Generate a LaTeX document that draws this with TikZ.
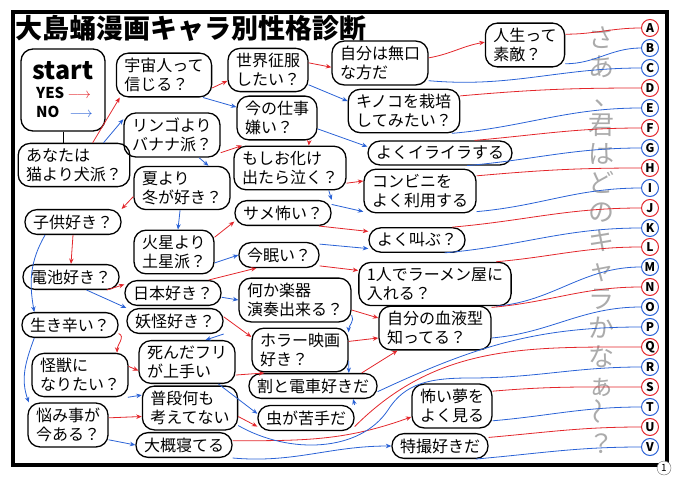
\documentclass[tikz,border=0pt]{standalone}
\usepackage{fontspec}
\setmainfont{Noto Sans CJK JP}
\usepackage{tikz}
\usetikzlibrary{arrows.meta}
\definecolor{colyes}{HTML}{E3262B}
\definecolor{colno}{HTML}{2A62D6}
\definecolor{colmsg}{HTML}{ABABAB}

\begin{document}
\begin{tikzpicture}[x=1pt, y=1pt]
    \tikzstyle{qnb} += [draw=black, line width=1.3pt, rounded corners=12pt, align=left, inner xsep=8pt, inner ysep=5pt, font=\fontsize{16}{19}\selectfont];
    \tikzstyle{cny} += [draw=colyes, circle, line width=1pt, inner sep=0pt, minimum size=17pt, font=\fontsize{12}{12}\selectfont\bfseries];
    \tikzstyle{cnn} += [draw=colno, circle, line width=1pt, inner sep=0pt, minimum size=17pt, font=\fontsize{12}{12}\selectfont\bfseries];
    \tikzstyle{ar} += [-{Stealth[length=5.5pt, width=4.5pt]}];
    \useasboundingbox (0,0) rectangle (680,480);
    \draw[line width=4pt] (13,15) rectangle (667,468);
    \node (title) at (14,452) [anchor=west, inner sep=1pt, font=\fontsize{27}{30}\selectfont\bfseries] {大島蛹漫画キャラ別性格診断};
    \node (pg) at (664,12) [draw=black!60, fill=white, circle, inner sep=0pt, minimum size=14pt, font=\fontsize{10}{10}\selectfont] {1};
    \node (msg) at (601,240) [text=colmsg, align=center, font=\fontsize{26}{29}\selectfont] {さ\\あ\\\hspace{12pt}、\\君\\は\\ど\\の\\キ\\ャ\\ラ\\か\\な\\ぁ\\\rotatebox{90}{～}\\？};

    \node (start) at (63,390) [qnb, minimum width=84pt, minimum height=82pt, inner xsep=6pt] {{\fontsize{25}{27}\selectfont\bfseries start}\\{\fontsize{15}{18}\selectfont\bfseries\ YES \textcolor{colyes}{$\longrightarrow$}}\\{\fontsize{15}{18}\selectfont\bfseries\ NO\ \ \ \textcolor{colno}{$\longrightarrow$}}};
    \node (dog)     at ( 74,315) [qnb] {あなたは\\猫より犬派？};
    \node (space)   at (164,405) [qnb] {宇宙人って\\信じる？};
    \node (apple)   at (172,345) [qnb] {リンゴより\\バナナ派？};
    \node (world)   at (268,410) [qnb] {世界征服\\したい？};
    \node (work)    at (277,362) [qnb] {今の仕事\\嫌い？};
    \node (quiet)   at (380,417) [qnb] {自分は無口\\な方だ};
    \node (life)    at (525,435) [qnb] {人生って\\素敵？};
    \node (mush)    at (404,369) [qnb] {キノコを栽培\\してみたい？};
    \node (irr)     at (440,327) [qnb] {よくイライラする};
    \node (ghost)   at (290,312) [qnb] {もしお化け\\出たら泣く？};
    \node (summer)  at (182,292) [qnb] {夏より\\冬が好き？};
    \node (conv)    at (420,289) [qnb] {コンビニを\\よく利用する};
    \node (shark)   at (283,267) [qnb] {サメ怖い？};
    \node (kids)    at ( 73,258) [qnb] {子供好き？};
    \node (mars)    at (174,228) [qnb] {火星より\\土星派？};
    \node (scream)  at (417,240) [qnb] {よく叫ぶ？};
    \node (sleepy)  at (279,225) [qnb] {今眠い？};
    \node (battery) at ( 71,203) [qnb] {電池好き？};
    \node (japan)   at (173,187) [qnb] {日本好き？};
    \node (ramen)   at (435,196) [qnb] {1人でラーメン屋に\\入れる？};
    \node (instr)   at (295,180) [qnb] {何か楽器\\演奏出来る？};
    \node (yokai)   at (175,159) [qnb] {妖怪好き？};
    \node (hard)    at ( 70,155) [qnb] {生き辛い？};
    \node (blood)   at (435,152) [qnb] {自分の血液型\\知ってる？};
    \node (horror)  at (300,130) [qnb] {ホラー映画\\好き？};
    \node (dead)    at (187,118) [qnb] {死んだフリ\\が上手い};
    \node (monster) at ( 80,105) [qnb] {怪獣に\\なりたい？};
    \node (train)   at (313, 94) [qnb] {割と電車好きだ};
    \node (plain)   at (190, 72) [qnb] {普段何も\\考えてない};
    \node (bug)     at (306, 62) [qnb] {虫が苦手だ};
    \node (worry)   at ( 68, 55) [qnb] {悩み事が\\今ある？};
    \node (dream)   at (452, 74) [qnb] {怖い夢を\\よく見る};
    \node (sleep)   at (184, 35) [qnb] {大概寝てる};
    \node (toku)    at (440, 34) [qnb] {特撮好きだ};

    \node (A) at (650,452) [cny] {A};
    \node (B) at (650,432) [cnn] {B};
    \node (C) at (650,412) [cnn] {C};
    \node (D) at (650,392) [cny] {D};
    \node (E) at (650,372) [cnn] {E};
    \node (F) at (650,352) [cny] {F};
    \node (G) at (650,332) [cnn] {G};
    \node (H) at (650,312) [cny] {H};
    \node (I) at (650,292) [cnn] {I};
    \node (J) at (650,272) [cny] {J};
    \node (K) at (650,252) [cnn] {K};
    \node (L) at (650,233) [cny] {L};
    \node (M) at (650,213) [cnn] {M};
    \node (N) at (650,193) [cny] {N};
    \node (O) at (650,173) [cnn] {O};
    \node (P) at (650,153) [cnn] {P};
    \node (Q) at (650,133) [cny] {Q};
    \node (R) at (650,113) [cnn] {R};
    \node (S) at (650, 93) [cny] {S};
    \node (T) at (650, 73) [cnn] {T};
    \node (U) at (650, 53) [cny] {U};
    \node (V) at (650, 33) [cnn] {V};

    \begin{scope}[thick]
      \draw (start.south) -- (start.south |- dog.north);
      \draw[colyes, ar] (dog.50) -- (space.207);
      \draw[colno, ar] (dog.37) -- (apple.162);
      \draw[colyes, ar] (space.-15) -- (world.195);
      \draw[colno, ar] (space.-30) -- (work.165);
      \draw[colyes, ar] (world.10) -- (quiet.185);
      \draw[colno, ar] (world.-20) -- (mush.170);
      \draw[colyes, ar] (quiet.6) to[out=10, in=190] (life.176);
      \draw[colyes, ar] (work.-35) -- (ghost.50);
      \draw[colno, ar] (work.-15) -- (irr.175);
      \draw[colyes, ar] (apple.-20) -- (ghost.155);
      \draw[colno, ar] (apple.-40) -- (summer.40);
      \draw[colyes, ar] (ghost.-15) -- (conv.170);
      \draw[colno, ar] (ghost.-30) -- (shark.15);
      \draw[colyes, ar] (summer.190) -- (kids.15);
      \draw[colno, ar] (summer.-95) -- (mars.80);
      \draw[colyes, ar] (shark.-20) -- (scream.170);
      \draw[colno, ar] (shark.10) -- (conv.200);
      \draw[colyes, ar] (mars.20) -- (shark.190);
      \draw[colno, ar] (mars.-15) -- (sleepy.180);
      \draw[colyes, ar] (sleepy.-15) -- (ramen.170);
      \draw[colno, ar] (sleepy.15) -- (scream.190);
      \draw[colyes, ar] (kids.south) -- (battery.north);
      \draw[colno, ar] (kids.205) to[out=240, in=100] (hard.160);
      \draw[colyes, ar] (battery.-20) -- (japan.170);
      \draw[colno, ar] (battery.-40) -- (yokai.165);
      \draw[colyes, ar] (japan.20) -- (sleepy.210);
      \draw[colno, ar] (japan.-5) -- (instr.180);
      \draw[colyes, ar] (instr.-10) -- (blood.170);
      \draw[colno, ar] (instr.-15) to[out=-60, in=90] (horror.20);
      \draw[colyes, ar] (yokai.5) -- (horror.165);
      \draw[colno, ar] (yokai.-15) -- (dead.50);
      \draw[colyes, ar] (hard.-10) to[out=-20, in=90] (monster.31);
      \draw[colno, ar] (hard.200) to[out=250, in=110] (worry.150);
      \draw[colyes, ar] (monster.10) -- (dead.190);
      \draw[colno, ar] (monster.-25) -- (plain.165);
      \draw[colyes, ar] (dead.-15) -- (train.165);
      \draw[colno, ar] (dead.-35) -- (bug.175);
      \draw[colyes, ar] (horror.10) -- (blood.190);
      \draw[colno, ar] (horror.-13) -- (train.20);
      \draw[colyes, ar] (train.15) -- (blood.211);
      \draw[colno, ar] (bug.15) -- (train.-18);
      \draw[colyes, ar] (plain.-10) -- (bug.190);
      \draw[colyes, ar] (worry.10) -- (plain.190);
      \draw[colno, ar] (worry.-20) -- (sleep.180);
      \draw[colyes, ar] (sleep.5) to[out=0, in=200] (dream.195);
      \draw[colno, ar] (sleep.-15) to[out=-5, in=180] (toku.180);

      \draw[colyes] (life.15) to[out=0, in=180] (A);
      \draw[colno] (life.-25) to[out=0, in=180] (B);
      \draw[colno] (quiet.-20) to[out=-5, in=180] (C);
      \draw[colyes] (mush.15) to[out=5, in=180] (D);
      \draw[colno] (mush.-25) to[out=5, in=180] (E);
      \draw[colyes] (irr.20) to[out=5, in=180] (F);
      \draw[colno] (irr.-25) to[out=5, in=180] (G);
      \draw[colyes] (conv.15) to[out=5, in=180] (H);
      \draw[colno] (conv.-20) to[out=5, in=180] (I);
      \draw[colyes] (scream.20) to[out=5, in=180] (J);
      \draw[colno] (scream.-25) to[out=5, in=180] (K);
      \draw[colyes] (ramen.20) to[out=5, in=180] (L);
      \draw[colno] (ramen.-20) to[out=5, in=180] (M);
      \draw[colyes] (blood.20) to[out=5, in=180] (N);
      \draw[colno] (blood.-10) to[out=5, in=180] (O);
      \draw[colno] (train.-5) to[out=25, in=180] (P);
      \draw[colyes] (bug.-10) to[out=45, in=180] (Q);
      \draw[colno] (plain.-20) .. controls (290,25) and (360,28) .. (388,70) .. controls (405,97) and (430,102) .. (470,102) to[out=0, in=180] (R);
      \draw[colyes] (dream.20) to[out=5, in=180] (S);
      \draw[colno] (dream.-20) to[out=5, in=180] (T);
      \draw[colyes] (toku.10) to[out=5, in=180] (U);
      \draw[colno] (toku.-20) to[out=5, in=180] (V);
    \end{scope}
\end{tikzpicture}
\end{document}
